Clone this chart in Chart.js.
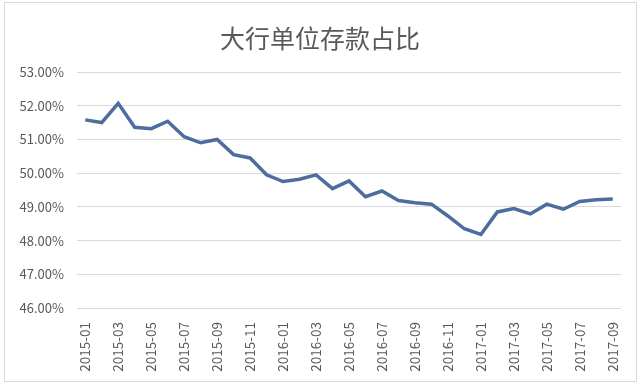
<!DOCTYPE html>
<html>
<head>
<meta charset="utf-8">
<script src="https://cdn.jsdelivr.net/npm/chart.js@4"></script>
<style>
  html, body { margin: 0; padding: 0; background: #fff; }
  #wrap { position: relative; width: 640px; height: 387px; }
  #frame { position: absolute; left: 4px; top: 2px; width: 631px; height: 378px; border: 1px solid #d9d9d9; pointer-events: none; }
</style>
</head>
<body>
<div id="wrap">
  <canvas id="chart" width="640" height="387"></canvas>
  <div id="frame"></div>
</div>
<script>
const months = [
    '2015-01', '2015-02', '2015-03', '2015-04', '2015-05', '2015-06', '2015-07', '2015-08', '2015-09', '2015-10', '2015-11', '2015-12',
    '2016-01', '2016-02', '2016-03', '2016-04', '2016-05', '2016-06', '2016-07', '2016-08', '2016-09', '2016-10', '2016-11', '2016-12',
    '2017-01', '2017-02', '2017-03', '2017-04', '2017-05', '2017-06', '2017-07', '2017-08', '2017-09'
];
const shares = [
    51.58, 51.50, 52.07, 51.36, 51.32, 51.54, 51.08, 50.90, 51.00, 50.55, 50.45, 49.95,
    49.75, 49.82, 49.95, 49.54, 49.77, 49.30, 49.47, 49.19, 49.12, 49.08, 48.73, 48.35,
    48.18, 48.85, 48.95, 48.79, 49.08, 48.93, 49.16, 49.21, 49.23
];
const yMin = 46;
const yMax = 53;
const chartTitle = '大行单位存款占比';

// title centred on the whole canvas, like the original
const titlePlugin = {
    id: 'centerTitle',
    afterDraw(chart) {
        const c = chart.ctx;
        c.save();
        c.fillStyle = '#595959';
        c.font = '25px "Noto Sans CJK SC", sans-serif';
        c.textAlign = 'center';
        c.textBaseline = 'middle';
        c.fillText(chartTitle, chart.width / 2, 38);
        c.restore();
    }
};

const ctx = document.getElementById('chart').getContext('2d');

const chart = new Chart(ctx, {
    type: 'line',
    data: {
        labels: months,
        datasets: [{
            data: shares,
            borderColor: '#4d6d9e',
            borderWidth: 3.5,
            pointRadius: 0,
            tension: 0,
            fill: false
        }]
    },
    options: {
        responsive: false,
        animation: false,
        layout: {
            padding: { top: 72, left: 0, right: 19, bottom: 8 }
        },
        plugins: {
            legend: { display: false },
            tooltip: { enabled: false },
            title: { display: false }
        },
        scales: {
            x: {
                offset: true,
                grid: { display: false },
                border: { display: false },
                ticks: {
                    autoSkip: false,
                    minRotation: 90,
                    maxRotation: 90,
                    padding: 6,
                    color: '#595959',
                    font: { family: '"Noto Sans CJK SC", sans-serif', size: 13.5 },
                    callback: function (value, index) {
                        return index % 2 === 0 ? this.getLabelForValue(value) : '';
                    }
                },
                afterFit: (axis) => { axis.height = 71; }
            },
            y: {
                min: yMin,
                max: yMax,
                border: { display: false },
                grid: { color: '#d9d9d9', lineWidth: 1, drawTicks: false },
                ticks: {
                    stepSize: 1,
                    padding: 13,
                    color: '#595959',
                    font: { family: '"Noto Sans CJK SC", sans-serif', size: 13 },
                    callback: (v) => v.toFixed(2) + '%'
                },
                afterFit: (axis) => { axis.width = 77; }
            }
        }
    },
    plugins: [titlePlugin]
});
</script>
</body>
</html>
